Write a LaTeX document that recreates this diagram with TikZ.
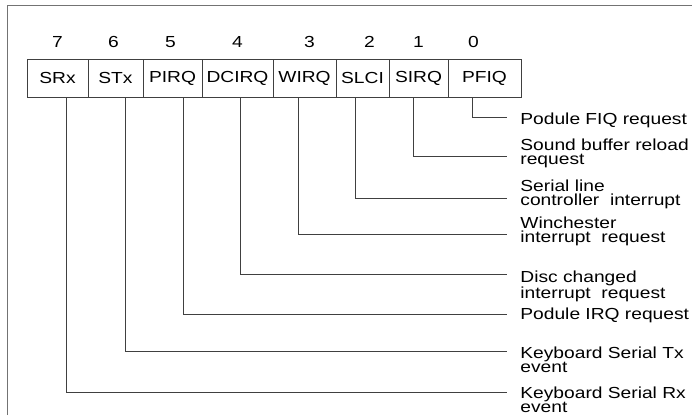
\documentclass[tikz,border=0pt]{standalone}
\usepackage{fontspec}
\setmainfont{Liberation Sans}[FakeStretch=1.2]
\usetikzlibrary{positioning}

\begin{document}
\begin{tikzpicture}[
        x=1pt, y=-1pt,
        every node/.style={font=\fontsize{16}{14.5}\selectfont, inner sep=0pt},
        every path/.style={line width=0.8pt},
        cell/.style={draw=black!75, minimum height=38pt, outer sep=0pt},
        bitno/.style={above=11pt of #1},
        lab/.style={anchor=north west, yshift=5.7pt, align=left},
        wire/.style={draw=black!75},
        border/.style={draw=black!55, line width=0.6pt}
    ]
    \useasboundingbox (0,0) rectangle (692,415);

    % Page border
    \draw[border] (7,415) -- (7,5) -- (692,5);

    % Register cells
    \node[cell, minimum width=61pt, anchor=north west] (srx) at (27,59) {SRx};
    \node[cell, minimum width=55pt, right=0pt of srx] (stx) {STx};
    \node[cell, minimum width=59pt, right=0pt of stx] (pirq) {PIRQ};
    \node[cell, minimum width=71pt, right=0pt of pirq] (dcirq) {DCIRQ};
    \node[cell, minimum width=63pt, right=0pt of dcirq] (wirq) {WIRQ};
    \node[cell, minimum width=53pt, right=0pt of wirq] (slci) {SLCI};
    \node[cell, minimum width=59pt, right=0pt of slci] (sirq) {SIRQ};
    \node[cell, minimum width=73pt, right=0pt of sirq] (pfiq) {PFIQ};

    % Bit numbers
    \node[bitno=srx] (b7) {7};
    \node[bitno=stx, xshift=-2pt] (b6) {6};
    \node[bitno=pirq, xshift=-2pt] (b5) {5};
    \node[bitno=dcirq] (b4) {4};
    \node[bitno=wirq, xshift=5pt] (b3) {3};
    \node[bitno=slci, xshift=7pt] (b2) {2};
    \node[bitno=sirq] (b1) {1};
    \node[bitno=pfiq, xshift=-11pt] (b0) {0};

    % Descriptions
    \node[lab] (lfiq) at (520,118) {Podule FIQ request};
    \node[lab] (lsnd) at (520,144) {Sound buffer reload\\request};
    \node[lab] (lser) at (520,185) {Serial line\\controller\ \ interrupt};
    \node[lab] (lwin) at (520,222) {Winchester\\interrupt\ \ request};
    \node[lab] (ldsc) at (520,276) {Disc changed\\interrupt\ \ request};
    \node[lab] (lirq) at (520,313) {Podule IRQ request};
    \node[lab] (ltx) at (520,352) {Keyboard Serial Tx\\event};
    \node[lab] (lrx) at (520,392) {Keyboard Serial Rx\\event};

    % Connectors
    \draw[wire] ([xshift=-12.5pt]pfiq.south) |- ([shift={(-13pt,-4.7pt)}]lfiq.north west);
    \draw[wire] ([xshift=-5.5pt]sirq.south) |- ([shift={(-13pt,-17.7pt)}]lsnd.north west);
    \draw[wire] ([xshift=-7.5pt]slci.south) |- ([shift={(-13pt,-18.7pt)}]lser.north west);
    \draw[wire] ([xshift=-6.5pt]wirq.south) |- ([shift={(-13pt,-17.7pt)}]lwin.north west);
    \draw[wire] ([xshift=2.5pt]dcirq.south) |- ([shift={(-13pt,-3.7pt)}]ldsc.north west);
    \draw[wire] ([xshift=10.5pt]pirq.south) |- ([shift={(-13pt,-6.7pt)}]lirq.north west);
    \draw[wire] ([xshift=9.5pt]stx.south) |- ([shift={(-13pt,-4.7pt)}]ltx.north west);
    \draw[wire] ([xshift=8.5pt]srx.south) |- ([shift={(-13pt,-5.7pt)}]lrx.north west);

\end{tikzpicture}
\end{document}
